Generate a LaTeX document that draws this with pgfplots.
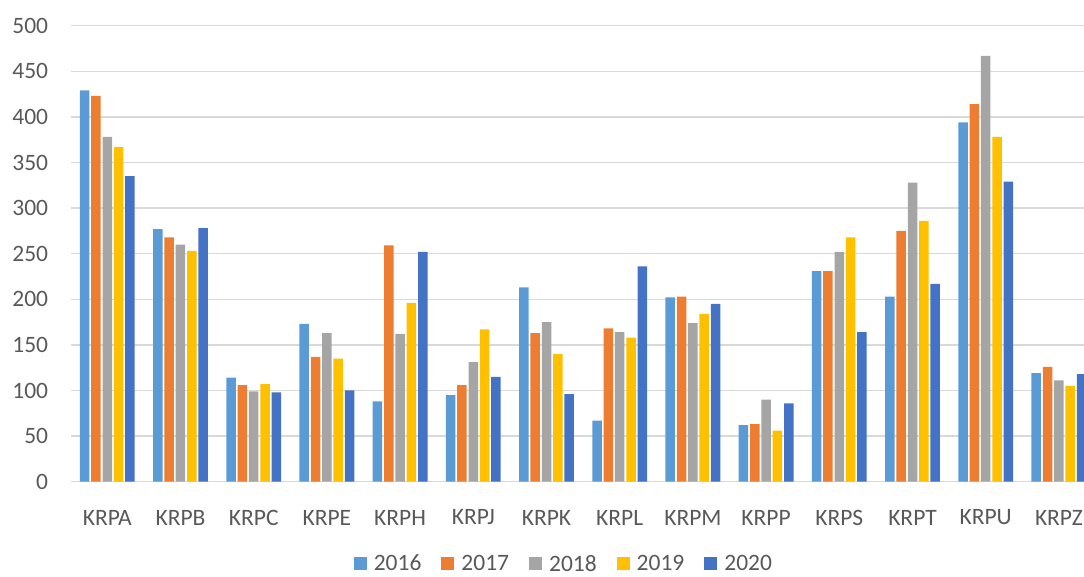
\documentclass[border=0pt]{standalone}
\usepackage{fontspec}
\setmainfont{Carlito}
\usepackage{pgfplots}
\pgfplotsset{compat=1.18}

\definecolor{c2016}{HTML}{5B9BD5}
\definecolor{c2017}{HTML}{ED7D31}
\definecolor{c2018}{HTML}{A5A5A5}
\definecolor{c2019}{HTML}{FFC000}
\definecolor{c2020}{HTML}{4472C4}
\definecolor{gridc}{HTML}{D9D9D9}
\definecolor{txt}{HTML}{595959}

% x = category index 0..13
\pgfplotstableread{
x  y16 y17 y18 y19 y20
0  429 423 378 367 335
1  277 268 260 253 278
2  114 106 99  107 98
3  173 137 163 135 100
4  88  259 162 196 252
5  95  106 131 167 115
6  213 163 175 140 96
7  67  168 164 158 236
8  202 203 174 184 195
9  62  63  90  56  86
10 231 231 252 268 164
11 203 275 328 286 217
12 394 414 467 378 329
13 119 126 111 105 118
}\data

\begin{document}
\begin{tikzpicture}
\useasboundingbox (-70.7pt,-95.3pt) rectangle (1013.3pt,481.7pt);
\begin{axis}[
    at={(0,0)}, anchor=south west,
    scale only axis,
    width=1024.8pt, height=456pt,
    ybar=1.83pt, bar width=9.5pt,
    xmin=-0.5, xmax=13.5,
    ymin=0, ymax=500,
    ytick={0,50,...,500},
    xtick=data,
    xticklabels={KRPA,KRPB,KRPC,KRPE,KRPH,KRPJ,KRPK,KRPL,KRPM,KRPP,KRPS,KRPT,KRPU,KRPZ},
    axis line style={draw=none},
    major tick style={draw=none},
    ymajorgrids,
    grid style={gridc, line width=1.3pt},
    tick label style={font=\fontsize{23.5}{28}\selectfont, text=txt},
    yticklabel style={inner sep=0pt, xshift=-22.4pt},
    xticklabel style={inner sep=0pt, anchor=center, yshift=-31.5pt},
    /pgf/number format/assume math mode=true,
    legend columns=5,
    legend style={draw=none, inner sep=0pt, at={(0.4808,-0.1783)}, anchor=center,
        font=\fontsize{23.5}{28}\selectfont, text=txt,
        nodes={inner sep=1pt, text depth=0pt},
        /tikz/every odd column/.append style={column sep=6pt},
        /tikz/every even column/.append style={column sep=19pt}},
    legend image code/.code={\fill[#1] (0pt,-6.5pt) rectangle (13pt,6.5pt);},
]
\addplot[fill=c2016, draw=none] table[x=x, y=y16] {\data};
\addplot[fill=c2017, draw=none] table[x=x, y=y17] {\data};
\addplot[fill=c2018, draw=none] table[x=x, y=y18] {\data};
\addplot[fill=c2019, draw=none] table[x=x, y=y19] {\data};
\addplot[fill=c2020, draw=none] table[x=x, y=y20] {\data};
\legend{2016,2017,2018,2019,2020}
\end{axis}
\end{tikzpicture}
\end{document}
